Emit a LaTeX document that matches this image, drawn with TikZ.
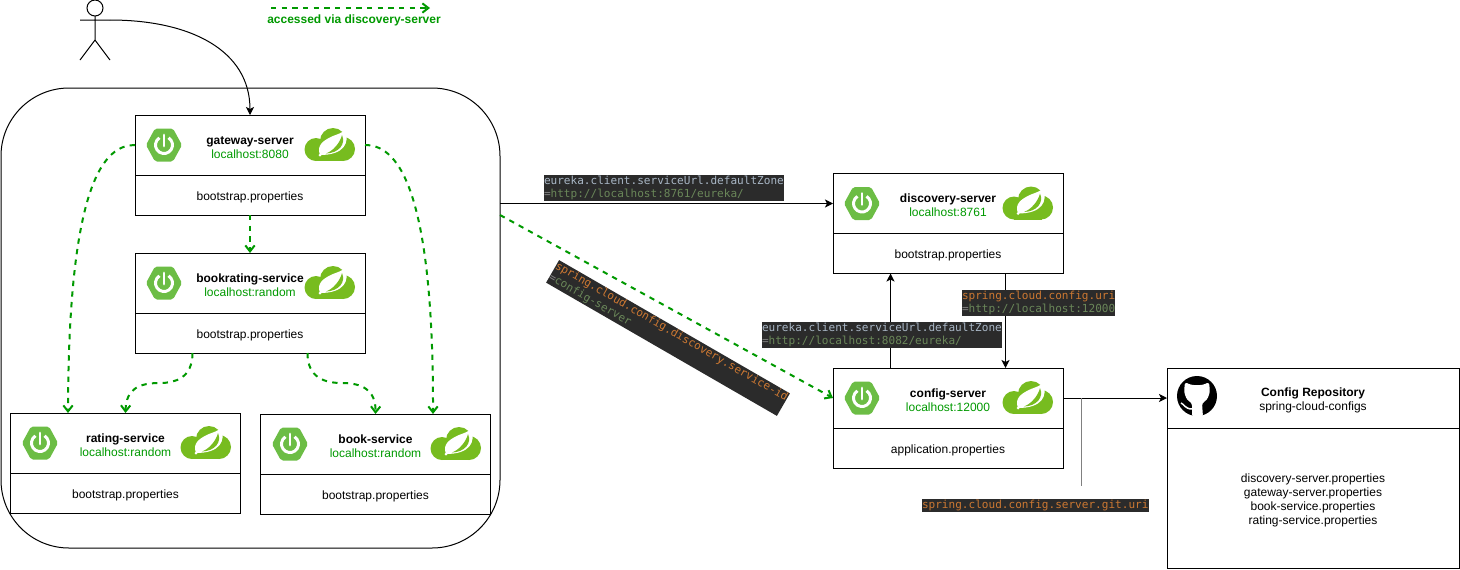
\documentclass[tikz,border=0pt]{standalone}
\usepackage{fontspec}
\setmainfont{Liberation Sans}
\newfontfamily\codefont{DejaVu Sans Mono}
\usetikzlibrary{arrows.meta,calc}
\definecolor{viagreen}{HTML}{009900}
\definecolor{bootgreen}{HTML}{6CBD45}
\definecolor{cloudgreen}{HTML}{77BC1F}
\definecolor{codebg}{HTML}{2B2B2B}
\definecolor{codekey}{HTML}{A9B7C6}
\definecolor{codeorange}{HTML}{CC7832}
\definecolor{codevalue}{HTML}{6A8759}
\definecolor{codeeq}{HTML}{808080}

\begin{document}
\begin{tikzpicture}[x=.75pt,y=-.75pt,line width=.75pt,
  textfont/.style={font=\fontsize{9}{10.5}\selectfont},
  header/.style={rectangle,draw,textfont,align=center,inner sep=0,outer sep=0,minimum width=172.5pt,minimum height=45pt,execute at begin node={\rule{0pt}{20pt}}},
  props/.style={rectangle,draw,textfont,align=center,inner sep=0,outer sep=0,minimum width=172.5pt,minimum height=30pt,execute at begin node={\rule{0pt}{9.5pt}}},
  code/.style={rectangle,fill=codebg,inner sep=0,outer sep=0,align=left,font=\codefont\fontsize{8.3}{9.75}\selectfont},
  link/.style={-{Stealth[length=6pt,width=6pt,inset=1.5pt]}},
  via/.style={viagreen,line width=1.5pt,dash pattern=on 4pt off 4pt,-{Straight Barb[length=4.5pt,width=7pt]}},
  pics/bootlogo/.style={code={
    \fill[bootgreen,rounded corners=1.5pt] (-18,0) -- (-9,-16.5) -- (9,-16.5) -- (18,0) -- (9,16.5) -- (-9,16.5) -- cycle;
    \draw[white,line width=2.2pt,y=.75pt] (58:8.5) arc (58:-238:8.5);
    \draw[white,line width=2.2pt,line cap=round] (0,1) -- (0,-10);
  }},
  pics/cloudlogo/.style={code={
    \fill[cloudgreen] (-14,4.5) circle (11.5);
    \fill[cloudgreen] (3,-4) circle (13);
    \fill[cloudgreen] (13,4) circle (12);
    \fill[cloudgreen] (-14,-2) rectangle (14,16);
    \fill[white] (-10,10) .. controls (-14,0) and (-6,-5) .. (3,-9) .. controls (8,-11) and (12,-12) .. (15,-15) .. controls (20,-2) and (14,10) .. (-10,10);
    \fill[cloudgreen] (12,-10) .. controls (16,-1) and (9,8) .. (-4,8.5) .. controls (3,6) and (10,-2) .. (12,-10);
    \fill[white] (-10,10) circle (1.5);
  }},
  pics/gitlogo/.style={code={
    \fill[black] (0,0) circle (20);
    \fill[white,rounded corners=2pt] (-12,-14) -- (-6,-11) -- (6,-11) -- (12,-14) -- (13,-4) -- (10,4) -- (5,7) -- (6,21) -- (-5,21) -- (-5,7) -- (-10,4) -- (-13,-4) -- cycle;
    \draw[white,line width=1.1pt] (-16,7) .. controls (-13,8) and (-12,13) .. (-5,13);
  }}]
\useasboundingbox (0,0) rectangle (1460,569);

% outer group
\node[draw,rectangle,rounded corners=51pt,inner sep=0,outer sep=0,minimum width=374.25pt,minimum height=345pt] (outer) at (250.5,318) {};

% user
\node[draw,circle,inner sep=0,outer sep=0,minimum size=12pt] (user) at (95,8) {};
\coordinate (user-hand) at (110,20);
\coordinate (user-foot) at (95,40);
\draw (user.south) -- (user-foot) -- (80,60) (user-foot) -- (110,60) (80,20) -- (user-hand);

% legend
\coordinate (legend-a) at (271,8);
\coordinate (legend-b) at (430,8);
\draw[via] (legend-a) -- (legend-b);
\node[textfont,viagreen,inner sep=0] (legend) at (354,20) {\textbf{accessed via discovery-server}};

% services
\node[header] (gateway) at (250,145) {\textbf{gateway-server}\\\textcolor{viagreen}{localhost:8080}};
\node[props] (gateway-b) at (250,195) {bootstrap.properties};
\pic at (164,145) {bootlogo};
\pic at (330,145) {cloudlogo};

\node[header] (bookrating) at (250,283) {\textbf{bookrating-service}\\\textcolor{viagreen}{localhost:random}};
\node[props] (bookrating-b) at (250,333) {bootstrap.properties};
\pic at (164,283) {bootlogo};
\pic at (330,283) {cloudlogo};

\node[header] (rating) at (125.5,443) {\textbf{rating-service}\\\textcolor{viagreen}{localhost:random}};
\node[props] (rating-b) at (125.5,493) {bootstrap.properties};
\pic at (40,443) {bootlogo};
\pic at (206,443) {cloudlogo};

\node[header] (book) at (375.5,444) {\textbf{book-service}\\\textcolor{viagreen}{localhost:random}};
\node[props] (book-b) at (375.5,494) {bootstrap.properties};
\pic at (290,444) {bootlogo};
\pic at (456,444) {cloudlogo};

\node[header] (discovery) at (948,203.5) {\textbf{discovery-server}\\\textcolor{viagreen}{localhost:8761}};
\node[props] (discovery-b) at (948,253.5) {bootstrap.properties};
\pic at (862,203.5) {bootlogo};
\pic at (1028,203.5) {cloudlogo};

\node[header] (config) at (948,398) {\textbf{config-server}\\\textcolor{viagreen}{localhost:12000}};
\node[props] (config-b) at (948,448) {application.properties};
\pic at (862,398) {bootlogo};
\pic at (1028,398) {cloudlogo};

% repository
\node[header,minimum width=219pt] (repo) at (1313,398) {\textbf{Config Repository}\\spring-cloud-configs};
\node[props,minimum width=219pt,minimum height=105pt,execute at begin node={\rule{0pt}{41pt}}] (repo-b) at (1313,498) {discovery-server.properties\\gateway-server.properties\\book-service.properties\\rating-service.properties};
\pic at (1197,396) {gitlogo};

% connectors
\draw[link] (user-hand) .. controls (190,20) and (250,50) .. (gateway.north);
\draw[via] (gateway.west) .. controls (105,145) and (68.5,180) .. ($(rating.north west)!.25!(rating.north east)$);
\draw[via] (gateway.east) .. controls (395,145) and (433.5,180) .. ($(book.north west)!.75!(book.north east)$);
\draw[via] (gateway-b.south) -- (bookrating.north);
\draw[via] ($(bookrating-b.south west)!.25!(bookrating-b.south east)$) .. controls (192.5,378) and (175,383) .. (160,383) .. controls (140,383) and (126,388) .. (rating.north);
\draw[via] ($(bookrating-b.south west)!.75!(bookrating-b.south east)$) .. controls (307.5,378) and (325,383) .. (342,383) .. controls (362,383) and (376,390) .. (book.north);
\draw[link] (outer.east |- discovery.west) -- (discovery.west);
\draw[via] (outer.east |- gateway-b.south) -- (config.west);
\draw[link] ($(config.north west)!.25!(config.north east)$) -- ($(discovery-b.south west)!.25!(discovery-b.south east)$);
\draw[link] ($(discovery-b.south west)!.75!(discovery-b.south east)$) -- ($(config.north west)!.75!(config.north east)$);
\draw[link] (config.east) -- (repo.west);
\coordinate (git-top) at (1081,398);
\coordinate (git-end) at (1081,486);
\draw[codeeq] (git-top) -- (git-end);

% property labels
\node[code,anchor=north west] (eureka-a) at (544,175) {\textcolor{codekey}{eureka.client.serviceUrl.defaultZone}\strut\\\textcolor{codeeq}{=}\textcolor{codevalue}{http://localhost:8761/eureka/}\strut};
\node[code,anchor=north west] (eureka-b) at (762,322) {\textcolor{codekey}{eureka.client.serviceUrl.defaultZone}\strut\\\textcolor{codeeq}{=}\textcolor{codevalue}{http://localhost:8082/eureka/}\strut};
\node[code,anchor=north west] (config-uri) at (962,290) {\textcolor{codeorange}{spring.cloud.config.uri}\strut\\\textcolor{codeeq}{=}\textcolor{codevalue}{http://localhost:12000}\strut};
\node[code,rotate=-30] (service-id) at (668,338) {\textcolor{codeorange}{spring.cloud.config.discovery.service-id}\strut\\\textcolor{codeeq}{=}\textcolor{codevalue}{config-server}\strut};
\node[code,anchor=north west] (git-uri) at (922,499) {\textcolor{codeorange}{spring.cloud.config.server.git.uri}\strut};
\end{tikzpicture}
\end{document}
